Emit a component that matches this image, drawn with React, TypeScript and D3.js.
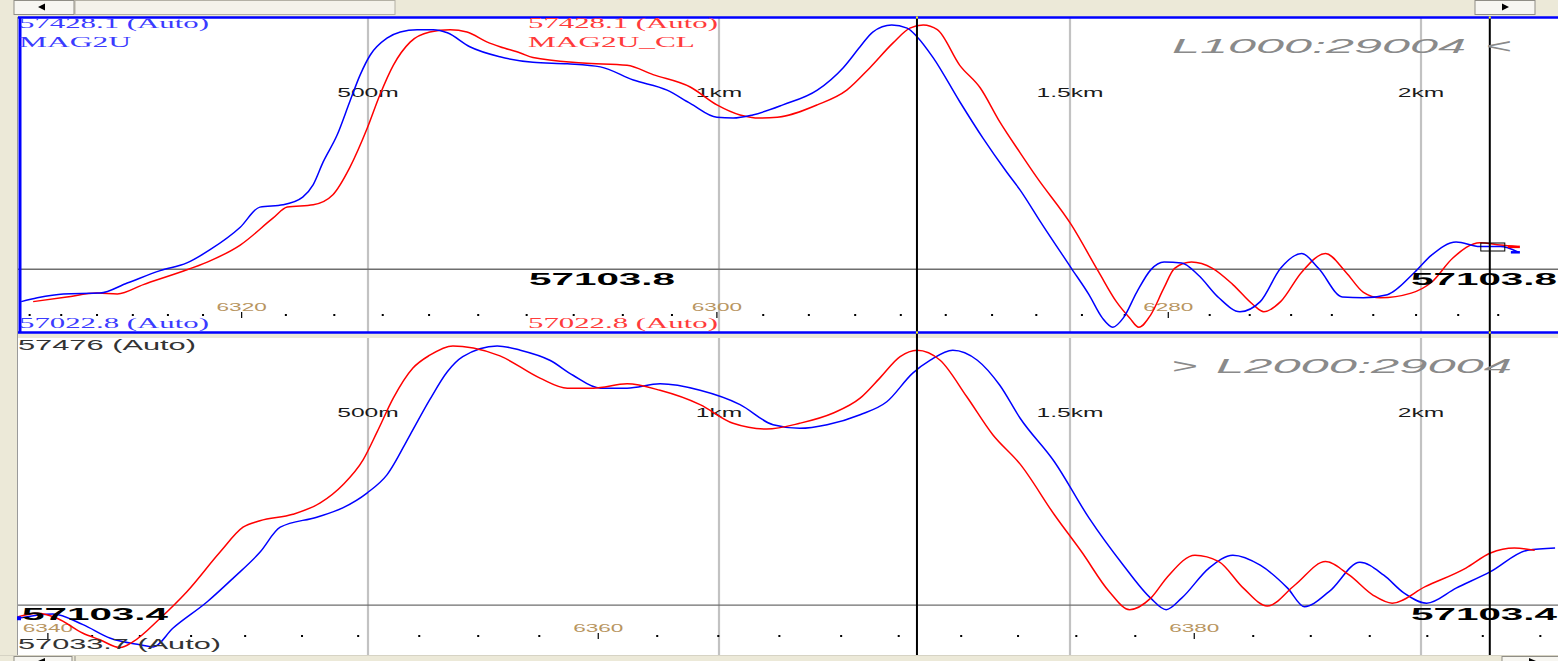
import React from "react";
import * as d3 from "d3";

// distance axis (metres) shared by both panels
const distTicks = [500, 1000, 1500, 2000];
const distLabels = ["500m", "1km", "1.5km", "2km"];
// the two black cursor lines (metres)
const cursorDist = [1282, 2098];

// value ranges of the two panels (auto scaled)
const topRange = [57022.8, 57428.1];
const bottomRange = [57033.7, 57476];
const topBase = 57103.8;
const bottomBase = 57103.4;

// fiducial marks along the line (number, distance in m)
const topFidNums = [6332, 6330, 6328, 6326, 6324, 6322, 6320, 6318, 6316, 6314, 6312, 6310, 6308, 6306, 6304, 6302, 6300, 6298, 6296, 6294, 6292, 6290, 6288, 6286, 6284, 6282, 6280, 6278, 6276, 6274, 6272, 6270, 6268, 6266, 6264];
const topFidDist = [18, 63, 114, 165, 215, 265, 320, 383, 452, 521, 587, 657, 726, 793, 863, 933, 997, 1063, 1128, 1194, 1259, 1323, 1389, 1452, 1517, 1578, 1640, 1699, 1756, 1815, 1873, 1932, 1993, 2053, 2110];
const bottomFidNums = [6340, 6342, 6344, 6346, 6348, 6350, 6352, 6354, 6356, 6358, 6360, 6362, 6364, 6366, 6368, 6370, 6372, 6374, 6376, 6378, 6380, 6382, 6384, 6386, 6388, 6390, 6392];
const bottomFidDist = [44, 107, 175, 248, 325, 406, 486, 573, 657, 744, 828, 912, 999, 1086, 1174, 1256, 1345, 1426, 1509, 1593, 1677, 1761, 1843, 1927, 2009, 2088, 2170];

// L1000 : MAG2U (blue) and MAG2U_CL (red), [distance m, nT]
const topBlue = [[6,57062],[29,57067],[66,57072],[118,57073],[157,57086],[204,57102],[242,57112],[275,57129],[318,57158],[346,57184],[379,57187],[407,57197],[422,57213],[436,57242],[456,57277],[474,57320],[489,57355],[503,57380],[527,57402],[546,57410],[570,57413],[593,57413],[613,57409],[645,57391],[688,57378],[735,57371],[784,57369],[831,57365],[878,57348],[926,57335],[959,57318],[997,57300],[1020,57299],[1048,57303],[1091,57316],[1140,57335],[1177,57364],[1201,57391],[1219,57410],[1246,57419],[1268,57415],[1282,57404],[1305,57377],[1343,57320],[1376,57273],[1410,57229],[1429,57206],[1458,57165],[1502,57105],[1527,57071],[1546,57041],[1561,57029],[1576,57041],[1595,57074],[1615,57103],[1634,57113],[1659,57112],[1683,57096],[1712,57067],[1742,57049],[1771,57062],[1800,57105],[1830,57124],[1854,57105],[1888,57068],[1918,57067],[1952,57071],[1991,57100],[2015,57122],[2050,57139],[2084,57133],[2113,57133],[2138,57126]];
const topRed = [[23,57062],[71,57068],[114,57073],[143,57072],[180,57084],[232,57100],[271,57113],[318,57135],[365,57170],[385,57184],[422,57187],[450,57200],[474,57235],[499,57286],[517,57329],[536,57367],[560,57397],[588,57410],[617,57413],[641,57410],[670,57397],[688,57391],[717,57383],[735,57377],[806,57370],[869,57367],[906,57355],[959,57339],[997,57316],[1030,57303],[1058,57299],[1083,57300],[1140,57316],[1182,57335],[1215,57364],[1248,57396],[1272,57415],[1291,57419],[1311,57413],[1343,57367],[1372,57338],[1400,57294],[1429,57254],[1453,57222],[1502,57161],[1541,57100],[1566,57062],[1585,57041],[1598,57029],[1615,57045],[1634,57080],[1649,57105],[1673,57113],[1703,57105],[1732,57084],[1761,57058],[1776,57049],[1800,57062],[1830,57100],[1864,57124],[1893,57100],[1918,57074],[1942,57067],[1986,57073],[2015,57087],[2045,57118],[2084,57138],[2113,57135],[2138,57133]];

// L2000
const bottomBlue = [[1,57085],[51,57091],[94,57076],[133,57057],[175,57048],[194,57045],[222,57071],[271,57108],[308,57141],[346,57177],[375,57212],[427,57226],[464,57239],[499,57260],[527,57285],[560,57341],[588,57390],[613,57429],[635,57450],[684,57465],[717,57459],[759,57445],[792,57424],[831,57406],[869,57406],[916,57412],[973,57403],[1030,57383],[1077,57355],[1115,57350],[1154,57355],[1201,57369],[1239,57387],[1276,57427],[1301,57445],[1333,57459],[1368,57445],[1400,57410],[1429,57364],[1478,57303],[1527,57225],[1576,57159],[1615,57113],[1637,57097],[1659,57113],[1698,57155],[1732,57173],[1771,57159],[1810,57127],[1834,57101],[1869,57122],[1913,57163],[1947,57145],[1976,57120],[2008,57106],[2050,57127],[2099,57150],[2152,57180],[2191,57183]];
const bottomRed = [[1,57087],[29,57092],[57,57085],[94,57064],[118,57055],[147,57044],[165,57052],[204,57085],[242,57122],[289,57177],[322,57212],[346,57221],[393,57230],[432,57246],[464,57271],[493,57306],[513,57345],[536,57392],[564,57434],[588,57452],[621,57465],[650,57462],[688,57451],[745,57420],[784,57406],[821,57406],[869,57412],[916,57403],[973,57383],[1020,57357],[1068,57349],[1115,57357],[1162,57371],[1201,57392],[1229,57420],[1258,57450],[1282,57459],[1315,57445],[1353,57394],[1390,57341],[1429,57300],[1478,57229],[1517,57177],[1556,57122],[1585,57097],[1615,57113],[1639,57143],[1678,57173],[1712,57164],[1747,57127],[1781,57102],[1820,57131],[1864,57164],[1898,57145],[1932,57117],[1959,57106],[2006,57129],[2064,57155],[2099,57176],[2133,57183],[2162,57180]];

const SANS = "'Liberation Sans', Arial, sans-serif";
const SERIF = "'Liberation Serif', 'Times New Roman', serif";
const BLUE = "#0000ff";
const RED = "#ff0000";
const BEIGE = "#ece9d8";

const x = d3.scaleLinear().domain([0, 2000]).range([17, 1421]);
const yTop = d3.scaleLinear().domain(topRange).range([332, 18]);
const yBot = d3.scaleLinear().domain(bottomRange).range([655, 338]);

function Txt({ x, y, w, size, family = SANS, fill = "#000", weight, italic, children }: any) {
  return (
    <text x={x} y={y} textLength={w} lengthAdjust="spacingAndGlyphs" fontSize={size}
      fontFamily={family} fill={fill} fontWeight={weight} fontStyle={italic ? "italic" : undefined}>
      {children}
    </text>
  );
}

// stretched, centred label (the screenshot is wide)
function Wide({ cx, y, size, fill, children }: any) {
  return (
    <text transform={`translate(${cx},${y}) scale(2.05,1)`} textAnchor="middle"
      fontSize={size} fontFamily={SANS} fill={fill}>{children}</text>
  );
}

function Panel({ y0, y1, yScale, base, fidNums, fidDist, fidY, distY, series, clip }: any) {
  const line = d3.line<number[]>()
    .x((d) => x(d[0]))
    .y((d) => yScale(d[1]))
    .curve(d3.curveMonotoneX);
  const by = yScale(base);
  return (
    <g>
      {distTicks.map((t) => (
        <line key={t} x1={x(t)} x2={x(t)} y1={y0} y2={y1} stroke="#c2c2c2" strokeWidth={2.2} />
      ))}
      <line x1={18} x2={1558} y1={by} y2={by} stroke="#6e6e6e" strokeWidth={1.3} />
      {distTicks.map((t, i) => (
        <Wide key={t} cx={x(t)} y={distY} size={12} fill="#1a1a1a">{distLabels[i]}</Wide>
      ))}
      {fidNums.map((n: number, i: number) => {
        const fx = x(fidDist[i]);
        if (n % 20 === 0) {
          return (
            <g key={n}>
              <line x1={fx} x2={fx} y1={fidY - 3} y2={fidY + 3} stroke="#000" strokeWidth={1.2} />
              <Wide cx={fx} y={fidY - 4} size={11} fill="#b8955f">{n}</Wide>
            </g>
          );
        }
        return <rect key={n} x={fx - 1} y={fidY - 1} width={2} height={2} fill="#000" />;
      })}
      <g clipPath={`url(#${clip})`}>
        {series.map((s: any) => (
          <path key={s.key} d={line(s.data) || ""} fill="none" stroke={s.color} strokeWidth={1.5} />
        ))}
      </g>
    </g>
  );
}

export default function App() {
  const cx = cursorDist.map((d) => x(d));
  return (
    <svg width={1558} height={661} style={{ position: "absolute", left: 0, top: 0, display: "block" }}>
      <defs>
        <clipPath id="clipTop"><rect x={21} y={18} width={1537} height={314} /></clipPath>
        <clipPath id="clipBot"><rect x={18} y={338} width={1540} height={317} /></clipPath>
      </defs>
      <rect x={0} y={0} width={1558} height={661} fill={BEIGE} />

      {/* top scroll bar */}
      <rect x={75} y={0.5} width={320} height={14} fill="#f4f2ea" stroke="#b3b0a4" />
      <rect x={14} y={0.5} width={60} height={14} fill="#f7f6f1" stroke="#8f8d85" />
      <path d="M38,7 L45,3.5 L45,10.5 Z" fill="#000" />
      <rect x={1475} y={0.5} width={60} height={14} fill="#f7f6f1" stroke="#8f8d85" />
      <path d="M1509,7 L1502,3.5 L1502,10.5 Z" fill="#000" />

      {/* panels */}
      <rect x={18} y={17} width={1540} height={316} fill="#fff" />
      <rect x={18} y={338} width={1540} height={317} fill="#fff" />
      <line x1={17.5} x2={17.5} y1={17} y2={655} stroke="#9a9a9a" strokeWidth={1} />

      <Panel y0={17} y1={333} yScale={yTop} base={topBase} fidNums={topFidNums} fidDist={topFidDist}
        fidY={315} distY={97} clip="clipTop"
        series={[{ key: "r", data: topRed, color: RED }, { key: "b", data: topBlue, color: BLUE }]} />
      <Panel y0={338} y1={655} yScale={yBot} base={bottomBase} fidNums={bottomFidNums} fidDist={bottomFidDist}
        fidY={636} distY={417} clip="clipBot"
        series={[{ key: "b", data: bottomBlue, color: BLUE }, { key: "r", data: bottomRed, color: RED }]} />

      {/* cursor lines */}
      {cx.map((v, i) => (
        <line key={i} x1={v} x2={v} y1={17} y2={655} stroke="#000" strokeWidth={2} />
      ))}

      {/* top panel border (active) */}
      <line x1={18} x2={1558} y1={17.5} y2={17.5} stroke={BLUE} strokeWidth={2.5} />
      <line x1={18} x2={1558} y1={332.5} y2={332.5} stroke={BLUE} strokeWidth={2.5} />
      <line x1={20} x2={20} y1={17} y2={333} stroke={BLUE} strokeWidth={3} />
      {cx.map((v, i) => (
        <g key={i}>
          <rect x={v - 1} y={16.5} width={2} height={2} fill="#ffff00" />
          <rect x={v - 1} y={331.5} width={2} height={2} fill="#ffff00" />
        </g>
      ))}

      {/* line end markers and cursor box */}
      <rect x={x(topRed[topRed.length - 1][0]) - 10} y={yTop(topRed[topRed.length - 1][1]) - 1} width={12} height={2.5} fill={RED} />
      <rect x={x(topBlue[topBlue.length - 1][0]) - 7} y={yTop(topBlue[topBlue.length - 1][1]) - 1} width={9} height={2.5} fill={BLUE} />
      <rect x={cx[1] - 9} y={243} width={24} height={8} fill="none" stroke="#000" strokeWidth={1} />
      <rect x={17} y={yBot(bottomBlue[0][1]) - 2} width={4} height={4} fill={BLUE} />

      {/* top panel texts */}
      <Txt x={19} y={28} w={190} size={15} family={SERIF} fill="#3b3bff">57428.1 (Auto)</Txt>
      <Txt x={19} y={47} w={112} size={15} family={SERIF} fill="#3b3bff">MAG2U</Txt>
      <Txt x={528} y={28} w={190} size={15} family={SERIF} fill="#ff3b3b">57428.1 (Auto)</Txt>
      <Txt x={528} y={47} w={167} size={15} family={SERIF} fill="#ff3b3b">MAG2U_CL</Txt>
      <Txt x={19} y={328} w={190} size={15} family={SERIF} fill="#3b3bff">57022.8 (Auto)</Txt>
      <Txt x={528} y={328} w={190} size={15} family={SERIF} fill="#ff3b3b">57022.8 (Auto)</Txt>
      <Txt x={529} y={285} w={146} size={17} weight="bold">{topBase.toFixed(1)}</Txt>
      <Txt x={1411} y={285} w={146} size={17} weight="bold">{topBase.toFixed(1)}</Txt>
      <Txt x={1172} y={53} w={294} size={20} italic fill="#8a8a8a">L1000:29004</Txt>
      <Txt x={1486} y={53} w={26} size={20} fill="#8a8a8a">&lt;</Txt>

      {/* bottom panel texts */}
      <Txt x={18} y={350} w={178} size={14} fill="#333">57476 (Auto)</Txt>
      <Txt x={18} y={649} w={203} size={14} fill="#333">57033.7 (Auto)</Txt>
      <Txt x={22} y={620} w={146} size={17} weight="bold">{bottomBase.toFixed(1)}</Txt>
      <Txt x={1411} y={620} w={146} size={17} weight="bold">{bottomBase.toFixed(1)}</Txt>
      <Txt x={1172} y={373} w={26} size={20} fill="#8a8a8a">&gt;</Txt>
      <Txt x={1216} y={373} w={296} size={20} italic fill="#8a8a8a">L2000:29004</Txt>

      {/* bottom scroll bar */}
      <rect x={0} y={655} width={1558} height={6} fill={BEIGE} />
      <line x1={0} x2={1558} y1={655.5} y2={655.5} stroke="#d6d3c4" />
      <rect x={14} y={656.5} width={58} height={10} fill="#f7f6f1" stroke="#8f8d85" />
      <path d="M38,661 L45,658 L45,664 Z" fill="#000" />
      <line x1={75} x2={75} y1={656} y2={661} stroke="#8f8d85" />
      <rect x={1502} y={656.5} width={60} height={10} fill="#f7f6f1" stroke="#8f8d85" />
      <path d="M1536,661 L1529,658 L1529,664 Z" fill="#000" />
    </svg>
  );
}
